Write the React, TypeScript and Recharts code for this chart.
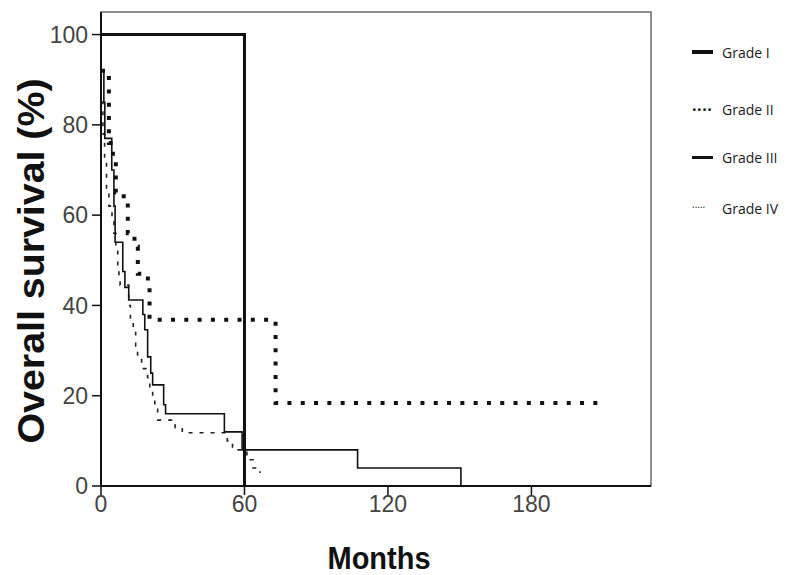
import React from 'react';
import { LineChart, Line, XAxis, YAxis, ReferenceArea } from 'recharts';

// ---- data ----
const gradeIMonths = [0, 60];
const gradeISurvival = [100, 0];

const gradeIIMonths = [0, 3.3, 5, 6.2, 9.5, 11.2, 14, 15.4, 19.6, 20.3, 73, 208];
const gradeIISurvival = [92, 76, 72, 65, 63, 56, 53, 47, 44, 36.8, 18.4, 18.4];

const gradeIIIMonths = [0, 1.2, 1.6, 4.5, 5.4, 5.9, 9.1, 10, 11.6, 17.5, 18.3, 19.5, 20.8, 21.6, 26.2, 27, 51.6, 59, 107.3, 150.5];
const gradeIIISurvival = [92, 85, 77, 70, 62, 54, 47.5, 44, 41.2, 38, 34.6, 28.6, 25, 22.4, 18, 16, 12, 8, 4, 0];

const gradeIVMonths = [0, 0.8, 1.5, 2.3, 3.3, 4.6, 5.4, 6.2, 7, 7.5, 8, 11.6, 12.3, 13.5, 14.5, 15.3, 17, 19.5, 20.4, 21.6, 22.5, 23.7, 29.5, 31, 34, 52.8, 55, 61, 63.6, 66.5];
const gradeIVSurvival = [85, 78, 72, 66, 62, 59, 56, 52, 49, 46, 44.5, 40, 37, 34, 31, 28, 26, 24, 22, 19.5, 17, 14.6, 13.5, 12.9, 11.8, 10, 8, 5.8, 4, 2.9];

const seriesNames = ['Grade I', 'Grade II', 'Grade III', 'Grade IV'];
const xTicks = [0, 60, 120, 180];
const yTicks = [0, 20, 40, 60, 80, 100];
const xLabel = 'Months';
const yLabel = 'Overall survival (%)';

const toRows = (m: number[], s: number[]) => m.map((t, i) => ({ t, s: s[i] }));

const gradeI = toRows(gradeIMonths, gradeISurvival);
const gradeII = toRows(gradeIIMonths, gradeIISurvival);
const gradeIII = toRows(gradeIIIMonths, gradeIIISurvival);
const gradeIV = toRows(gradeIVMonths, gradeIVSurvival);

const legendKinds = ['thick', 'dots', 'line', 'smalldots'];
const legendTops = [42, 99, 147, 198];

const LegendBlock = () => (
  <div style={{ position: 'absolute', left: 692, top: 0, width: 110, fontFamily: '"Open Sans", "Noto Sans", sans-serif', fontSize: 14, color: '#1a1a1a' }}>
    {seriesNames.map((name, i) => {
      const kind = legendKinds[i];
      return (
        <div key={name} style={{ position: 'absolute', top: legendTops[i], left: 0, width: 110, height: 20, display: 'flex', alignItems: 'center' }}>
          <div style={{ width: 22, height: 20, position: 'relative', marginRight: 8 }}>
            {kind === 'thick' && <div style={{ position: 'absolute', top: 8, left: 0, width: 21, height: 4, background: '#111' }} />}
            {kind === 'line' && <div style={{ position: 'absolute', top: 9, left: 0, width: 21, height: 2.5, background: '#111' }} />}
            {kind === 'dots' && <span style={{ position: 'absolute', top: -5, left: 0, fontSize: 16, fontWeight: 'bold', letterSpacing: 0.5 }}>....</span>}
            {kind === 'smalldots' && <span style={{ position: 'absolute', top: -1, left: 0, fontSize: 10 }}>.....</span>}
          </div>
          <span>{name}</span>
        </div>
      );
    })}
  </div>
);

const tickStyle = { fill: '#444', fontSize: 23, fontFamily: '"Liberation Sans", Arial, sans-serif' };

export default function App() {
  return (
    <div style={{ position: 'absolute', left: 0, top: 0, width: 800, height: 575, background: '#fff' }}>
      <LineChart
        width={800}
        height={575}
        margin={{ top: 12, right: 149, bottom: 59, left: 41 }}
      >
        <ReferenceArea x1={0} x2={230} y1={0} y2={105} fill="none" stroke="#6a6a6a" strokeWidth={1.5} ifOverflow="visible" />
        <XAxis
          type="number"
          dataKey="t"
          domain={[0, 230]}
          ticks={xTicks}
          allowDataOverflow
          height={30}
          tickSize={9}
          tickMargin={1}
          tick={tickStyle}
          axisLine={{ stroke: '#111', strokeWidth: 2 }}
          tickLine={{ stroke: '#111', strokeWidth: 1.5 }}
        />
        <YAxis
          type="number"
          dataKey="s"
          domain={[0, 105]}
          ticks={yTicks}
          allowDataOverflow
          width={60}
          tickSize={9}
          tickMargin={4}
          tick={tickStyle}
          axisLine={{ stroke: '#111', strokeWidth: 2 }}
          tickLine={{ stroke: '#111', strokeWidth: 1.5 }}
        />
        <Line data={gradeIV} dataKey="s" name={seriesNames[3]} type="stepAfter" stroke="#222" strokeWidth={1.6} strokeDasharray="4 7" dot={false} isAnimationActive={false} />
        <Line data={gradeIII} dataKey="s" name={seriesNames[2]} type="stepAfter" stroke="#111" strokeWidth={1.6} dot={false} isAnimationActive={false} />
        <Line data={gradeII} dataKey="s" name={seriesNames[1]} type="stepAfter" stroke="#111" strokeWidth={4} strokeDasharray="4 9.3" dot={false} isAnimationActive={false} />
        <Line data={gradeI} dataKey="s" name={seriesNames[0]} type="stepAfter" stroke="#111" strokeWidth={3} dot={false} isAnimationActive={false} />
      </LineChart>
      <LegendBlock />
      <svg width={800} height={575} style={{ position: 'absolute', left: 0, top: 0, pointerEvents: 'none' }}>
        <text x={379} y={569} textAnchor="middle" fontFamily='"Liberation Sans", Arial, sans-serif' fontWeight="bold" fontSize={31} textLength={103} lengthAdjust="spacingAndGlyphs" fill="#111">{xLabel}</text>
        <text transform="translate(44,261) rotate(-90)" x={0} y={0} textAnchor="middle" fontFamily='"Liberation Sans", Arial, sans-serif' fontWeight="bold" fontSize={36} textLength={365} lengthAdjust="spacingAndGlyphs" fill="#111">{yLabel}</text>
      </svg>
    </div>
  );
}
